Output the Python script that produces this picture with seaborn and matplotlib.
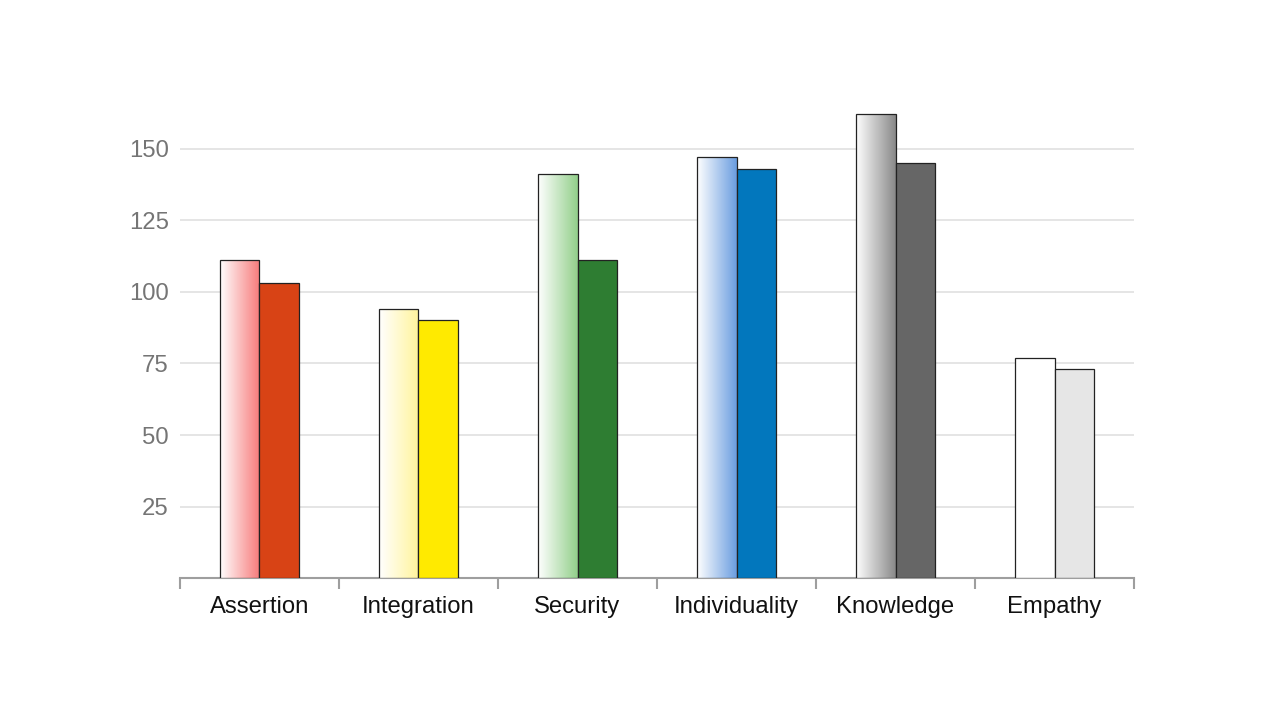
import numpy as np
import pandas as pd
import seaborn as sns
import matplotlib.pyplot as plt
from matplotlib import font_manager
from matplotlib.colors import to_rgb

categories = ["Assertion", "Integration", "Security", "Individuality", "Knowledge", "Empathy"]
series_a = [111, 94, 141, 147, 162, 77]
series_b = [103, 90, 111, 143, 145, 73]
gradient_colors = ["#f77a7a", "#fff49c", "#92cf8a", "#6a9de0", "#888888", "#ffffff"]
solid_colors = ["#d84315", "#ffea00", "#2e7d32", "#0277bd", "#666666", "#e6e6e6"]
y_ticks = [25, 50, 75, 100, 125, 150]

df = pd.DataFrame({
    "category": categories * 2,
    "value": series_a + series_b,
    "series": ["A"] * len(categories) + ["B"] * len(categories),
})

sns.set_theme(style="white")

# pick the regular (not narrow) Liberation Sans file
font_file = None
for f in font_manager.fontManager.ttflist:
    if f.fname.endswith("LiberationSans-Regular.ttf"):
        font_file = f.fname
        break
if font_file:
    fp = font_manager.FontProperties(fname=font_file)
    plt.rcParams["font.family"] = [fp.get_name(), "DejaVu Sans"]
else:
    fp = font_manager.FontProperties(family="DejaVu Sans")
    plt.rcParams["font.family"] = ["DejaVu Sans"]

fig = plt.figure(figsize=(12.8, 7.2), dpi=100)
ax = fig.add_axes([0.1406, 0.197, 0.7454, 0.676])

sns.barplot(data=df, x="category", y="value", hue="series", order=categories,
            hue_order=["A", "B"], width=0.5, gap=0, dodge=True,
            edgecolor="#222222", linewidth=0.9, legend=False, ax=ax, zorder=3)

# first series: horizontal white -> colour gradient, second: solid
for bar, col in zip(ax.containers[0], gradient_colors):
    x0, y0 = bar.get_x(), bar.get_y()
    w, h = bar.get_width(), bar.get_height()
    c = np.array(to_rgb(col))
    t = np.linspace(0, 1, 256)[:, None]
    grad = (1 - t) * np.ones(3) + t * c
    img = ax.imshow(grad[None, :, :], extent=[x0, x0 + w, y0, y0 + h],
                    aspect="auto", origin="lower", zorder=2.9, interpolation="bicubic")
    img.set_clip_path(bar)
    bar.set_facecolor("none")

for bar, col in zip(ax.containers[1], solid_colors):
    bar.set_facecolor(col)

ax.set_xlim(-0.5, len(categories) - 0.5)
ax.set_ylim(0, 170)
ax.set_yticks(y_ticks)
ax.set_xlabel("")
ax.set_ylabel("")
ax.grid(axis="y", color="#e0e0e0", linewidth=1.2, zorder=0)
ax.set_axisbelow(True)

for s in ["top", "right", "left"]:
    ax.spines[s].set_visible(False)
ax.spines["bottom"].set_color("#9e9e9e")
ax.spines["bottom"].set_linewidth(1.5)

ax.set_xticks(np.arange(-0.5, len(categories), 1.0), minor=True)
ax.tick_params(axis="x", which="minor", bottom=True, length=8, width=1.5,
               color="#9e9e9e", direction="out")
ax.tick_params(axis="x", which="major", length=0, pad=13, labelcolor="#111111")
ax.tick_params(axis="y", length=0, pad=8, labelcolor="#757575")
for lab in ax.get_xticklabels() + ax.get_yticklabels():
    lab.set_fontproperties(fp)
    lab.set_fontsize(17.2)

fig.savefig("out.png", dpi=100)
